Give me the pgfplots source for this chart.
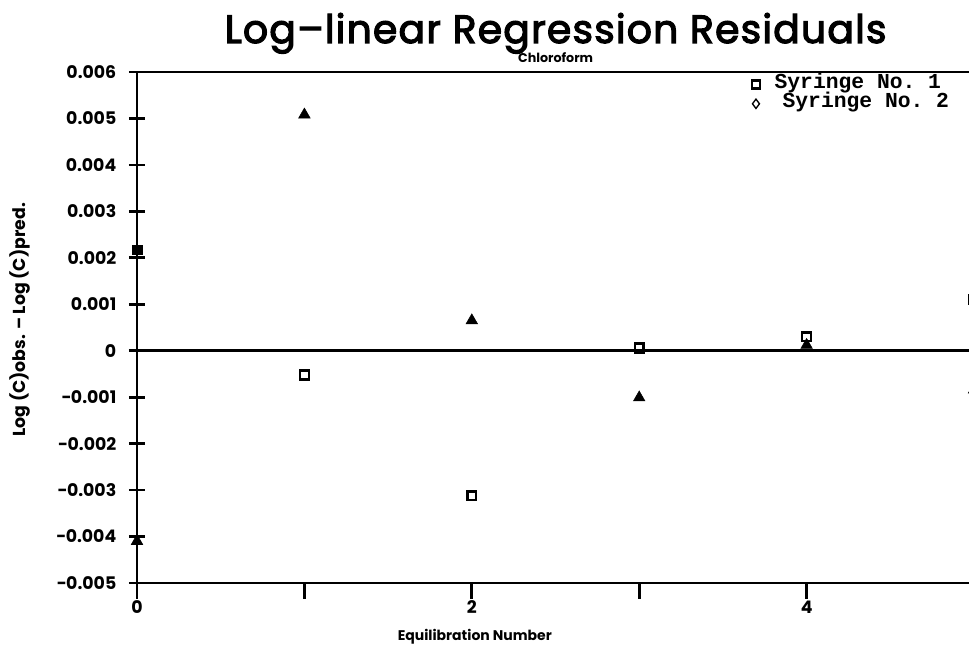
\documentclass[border=0pt]{standalone}
\usepackage{pgfplots}
\pgfplotsset{compat=1.18}
\usepackage{fontspec}
\setmainfont{Poppins}
\setmonofont{Liberation Mono}
\newfontfamily\titlefont{Poppins}[FakeBold=3, LetterSpace=3]

\begin{document}
\begin{tikzpicture}
\begin{axis}[
    name=ax,
    scale only axis,
    width=624pt,
    height=383.25pt,
    xmin=0, xmax=4.97,
    ymin=-0.005, ymax=0.006,
    axis x line*=box,
    axis y line*=left,
    axis line style={line width=2.2pt},
    xtick pos=bottom,
    xtick={0,1,2,3,4},
    xticklabels={0,,2,,4},
    ytick={-0.005,-0.004,-0.003,-0.002,-0.001,0,0.001,0.002,0.003,0.004,0.005,0.006},
    yticklabels={−0.005,−0.004,−0.003,−0.002,−0.001,0,0.001,0.002,0.003,0.004,0.005,0.006},
    x tick style={line width=2pt, black},
    y tick style={line width=2pt, black},
    xtick align=outside,
    ytick align=center,
    major tick length=12pt,
    tick label style={font=\bfseries\fontsize{13}{15}\selectfont},
    xticklabel style={yshift=2pt},
    yticklabel style={xshift=-6pt},
    scaled y ticks=false,
    extra y ticks={0},
    extra y tick labels={},
    extra y tick style={grid=major, major grid style={line width=2.2pt, black}},
    every axis x label/.style={at={(rel axis cs:0.406,0)}, yshift=-40.5pt, anchor=center},
    every axis y label/.style={at={(rel axis cs:0,0.515)}, xshift=-88pt, rotate=90, anchor=center},
    xlabel={\bfseries\fontsize{10.5}{12}\selectfont Equilibration Number},
    ylabel={\bfseries\fontsize{13}{15}\selectfont Log (C)obs. – Log (C)pred.},
    clip=false,
    legend cell align=left,
    legend style={draw=none, fill=none, at={(rel axis cs:0.734,0.997)}, anchor=north west,
        font=\ttfamily\bfseries\fontsize{16}{13}\selectfont, row sep=2.5pt,
        nodes={inner sep=0pt, text height=9pt, text depth=3pt},
        /tikz/every even column/.append style={column sep=0pt},
        /tikz/every odd column/.append style={column sep=11pt}},
]
% Syringe No. 1 (open squares)
\addplot[only marks, mark=square, mark size=3.3pt, line width=1.9pt, forget plot]
  coordinates {(1,-0.00052) (2,-0.00312) (3,0.00006) (4,0.0003) (5,0.0011)};
\addplot[only marks, mark=square*, mark size=3.6pt, fill=black, forget plot]
  coordinates {(0,0.00217)};
% Syringe No. 2 (filled triangles)
\addplot[only marks, mark=triangle*, mark size=5pt, fill=black, forget plot]
  coordinates {(0,-0.0041) (1,0.00508) (2,0.00065) (3,-0.00101) (4,0.00012) (5,-0.00084)};

\addlegendimage{only marks, mark=square, mark size=3pt, line width=1.6pt}
\addlegendentry{Syringe No. 1}
\addlegendimage{only marks, mark=diamond, mark size=3.5pt, line width=1pt}
\addlegendentry{\hspace{6pt}Syringe No. 2}
\end{axis}
\node[font=\titlefont\fontsize{29.5}{32}\selectfont, anchor=center] at ([xshift=2pt, yshift=29pt]ax.north) {Log–linear Regression Residuals};
\node[font=\bfseries\fontsize{9.5}{10}\selectfont, anchor=center] at ([xshift=2pt, yshift=10.5pt]ax.north) {Chloroform};
\pgfresetboundingbox
\path[use as bounding box] ([xshift=-102.75pt, yshift=-54pt]ax.south west) rectangle ([yshift=54pt]ax.north east);
\end{tikzpicture}
\end{document}
